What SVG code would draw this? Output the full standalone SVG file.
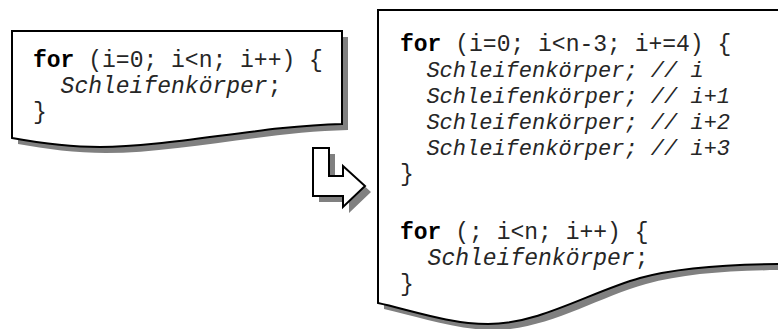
<svg xmlns="http://www.w3.org/2000/svg" width="778" height="329" viewBox="0 0 778 329">
  <style>
    .shadow { fill: #808080; stroke: none; }
    .doc { fill: #ffffff; stroke: #000000; stroke-width: 2; stroke-linejoin: miter; }
    .code { font-family: "Liberation Mono", "Courier New", monospace; font-size: 23px; fill: #262626; }
    .kw { font-weight: bold; fill: #000000; }
    .it { font-style: italic; }
    .body { font-size: 22px; }
  </style>
  <defs>
    <path id="docLeft" d="M12,31 H342 V124 C260,126 170,147 100,147 C70,147 40,143 12,138 Z"/>
    <path id="docRight" d="M378,10 H790 V264 C730,264 680,267 640,278 C590,292 540,324 488,324 C450,324 410,310 378,303 Z"/>
    <path id="bentArrow" d="M313,148 H329 V176 H343 V166 L365,186 L343,207 V196 H313 Z"/>
  </defs>

  <!-- original loop -->
  <g id="loop-original">
    <use href="#docLeft" class="shadow" transform="translate(6,6)"/>
    <use href="#docLeft" class="doc"/>
    <text class="code" xml:space="preserve"><tspan x="33" y="67"><tspan class="kw">for</tspan> (i=0; i&lt;n; i++) {</tspan><tspan x="33" y="93">  <tspan class="it">Schleifenkörper</tspan>;</tspan><tspan x="33" y="119">}</tspan></text>
  </g>

  <!-- unrolled loop with remainder loop -->
  <g id="loop-unrolled">
    <use href="#docRight" class="shadow" transform="translate(6,6)"/>
    <use href="#docRight" class="doc"/>
    <text class="code" xml:space="preserve"><tspan x="400" y="51"><tspan class="kw">for</tspan> (i=0; i&lt;n-3; i+=4) {</tspan><tspan x="400" y="77" class="it body">  Schleifenkörper; // i</tspan><tspan x="400" y="103" class="it body">  Schleifenkörper; // i+1</tspan><tspan x="400" y="129" class="it body">  Schleifenkörper; // i+2</tspan><tspan x="400" y="155" class="it body">  Schleifenkörper; // i+3</tspan><tspan x="400" y="181">}</tspan><tspan x="400" y="239"><tspan class="kw">for</tspan> (; i&lt;n; i++) {</tspan><tspan x="400" y="265">  <tspan class="it">Schleifenkörper</tspan>;</tspan><tspan x="400" y="291">}</tspan></text>
  </g>

  <!-- transformation arrow -->
  <g id="connectors">
    <use href="#bentArrow" class="shadow" transform="translate(6,6)"/>
    <use href="#bentArrow" class="doc"/>
  </g>
</svg>
